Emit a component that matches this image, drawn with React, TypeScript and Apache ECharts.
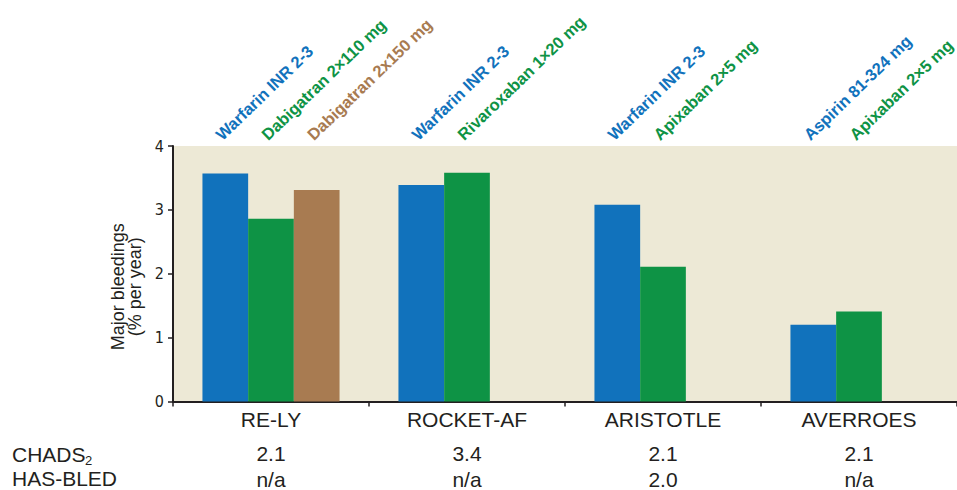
import React, { useEffect, useRef } from "react";
import * as echarts from "echarts";

const categories = ["RE-LY", "ROCKET-AF", "ARISTOTLE", "AVERROES"];
const chadsValues = ["2.1", "3.4", "2.1", "2.1"];
const hasBledValues = ["n/a", "n/a", "2.0", "n/a"];

const slot1Values: (number | null)[] = [3.57, 3.39, 3.08, 1.2];
const slot2Values: (number | null)[] = [2.86, 3.58, 2.11, 1.41];
const slot3Values: (number | null)[] = [3.31, null, null, null];

const slot1Labels = ["Warfarin INR 2-3", "Warfarin INR 2-3", "Warfarin INR 2-3", "Aspirin 81-324 mg"];
const slot2Labels = ["Dabigatran 2×110 mg", "Rivaroxaban 1×20 mg", "Apixaban 2×5 mg", "Apixaban 2×5 mg"];
const slot3Labels = ["Dabigatran 2x150 mg", "", "", ""];

const yMin = 0;
const yMax = 4;
const yInterval = 1;

const BLUE = "#1172BC";
const GREEN = "#0E9345";
const BROWN = "#A87B51";
const BEIGE = "#EDE9D6";
const INK = "#231F20";

const FONT = "'Liberation Sans', Arial, sans-serif";
const NARROW = "'Liberation Sans Narrow', 'DejaVu Sans Condensed', 'Liberation Sans', sans-serif";

function makeSlot(id: string, values: (number | null)[], labels: string[], color: string) {
  const visible = {
    type: "bar",
    name: id,
    stack: id,
    data: values.map((v) => (v == null ? "-" : v)),
    barWidth: 45.7,
    barGap: "0%",
    barCategoryGap: "30%",
    itemStyle: { color },
    silent: true,
  };
  const cap = {
    type: "bar",
    name: id + "-cap",
    stack: id,
    data: values.map((v) => (v == null ? "-" : yMax - v)),
    barWidth: 45.7,
    barGap: "0%",
    barCategoryGap: "30%",
    itemStyle: { color: "rgba(0,0,0,0)" },
    silent: true,
    label: {
      show: true,
      position: [16, -9],
      rotate: 44,
      align: "left",
      verticalAlign: "middle",
      color,
      fontFamily: FONT,
      fontWeight: "bold",
      fontSize: 16.5,
      formatter: (p: any) => labels[p.dataIndex],
    },
  };
  return [visible, cap];
}

export default function App() {
  const ref = useRef<HTMLDivElement>(null);
  useEffect(() => {
    if (!ref.current) return;
    const chart = echarts.init(ref.current, null, { renderer: "svg" });
    chart.setOption({
      animation: false,
      grid: {
        left: 173,
        right: 0,
        top: 146,
        bottom: 88,
        show: true,
        backgroundColor: BEIGE,
        borderWidth: 0,
      },
      xAxis: {
        type: "category",
        data: categories,
        axisLine: { show: true, lineStyle: { color: INK, width: 2 } },
        axisTick: { show: true, length: 5, lineStyle: { color: INK, width: 1.5 } },
        axisLabel: {
          margin: 5,
          interval: 0,
          formatter: (val: string, idx: number) =>
            `{a|${val}}\n{s| }\n{b|${chadsValues[idx]}}\n{c|${hasBledValues[idx]}}`,
          rich: {
            a: { fontFamily: FONT, fontSize: 21, color: INK, lineHeight: 26 },
            s: { fontFamily: FONT, fontSize: 6, color: INK, lineHeight: 8 },
            b: { fontFamily: FONT, fontSize: 21, color: INK, lineHeight: 26 },
            c: { fontFamily: FONT, fontSize: 21, color: INK, lineHeight: 26 },
          },
        },
        splitLine: { show: false },
      },
      yAxis: {
        type: "value",
        min: yMin,
        max: yMax,
        interval: yInterval,
        name: "Major bleedings\n(% per year)",
        nameLocation: "middle",
        nameGap: 28,
        nameRotate: 90,
        nameTextStyle: {
          fontFamily: FONT,
          fontSize: 18,
          lineHeight: 17,
          color: INK,
          padding: [0, 26, 0, 0],
        },
        axisLine: { show: true, lineStyle: { color: INK, width: 2 } },
        axisTick: { show: true, length: 5, lineStyle: { color: INK, width: 1.5 } },
        axisLabel: { margin: 9, fontFamily: NARROW, fontSize: 16, color: INK },
        splitLine: { show: false },
      },
      graphic: [
        {
          type: "text",
          left: 12,
          top: 443,
          style: { text: "CHADS", fontFamily: FONT, fontSize: 21, lineHeight: 22, fill: INK },
        },
        {
          type: "text",
          left: 85,
          top: 454,
          style: { text: "2", fontFamily: FONT, fontSize: 13, lineHeight: 13, fill: INK },
        },
        {
          type: "text",
          left: 12,
          top: 468,
          style: { text: "HAS-BLED", fontFamily: FONT, fontSize: 21, lineHeight: 21, fill: INK },
        },
      ],
      series: [
        ...makeSlot("s1", slot1Values, slot1Labels, BLUE),
        ...makeSlot("s2", slot2Values, slot2Labels, GREEN),
        ...makeSlot("s3", slot3Values, slot3Labels, BROWN),
      ],
    });
    return () => chart.dispose();
  }, []);
  return (
    <div
      ref={ref}
      style={{ position: "fixed", left: 0, top: 0, width: 957, height: 490, background: "#fff" }}
    />
  );
}
